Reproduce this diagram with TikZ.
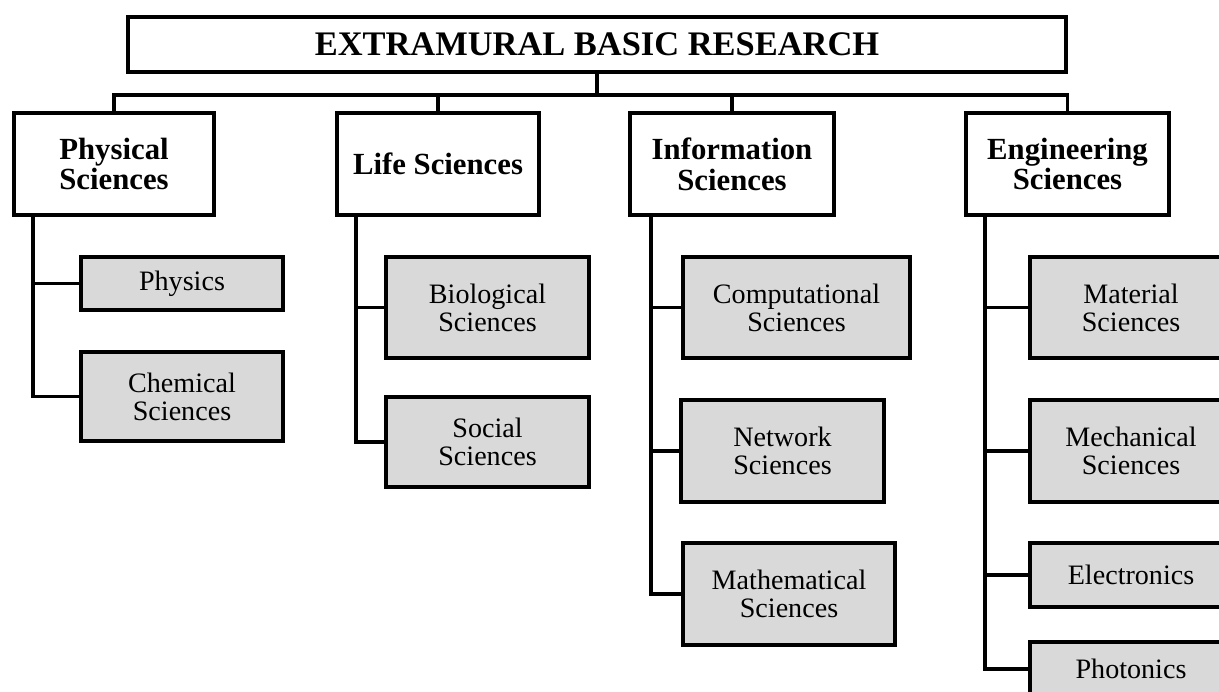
\documentclass[tikz,border=0pt]{standalone}
\usepackage{fontspec}
\setmainfont{Liberation Serif}
\definecolor{boxgray}{HTML}{D9D9D9}
\begin{document}
\begin{tikzpicture}[x=0.02cm,y=-0.02cm,
  box/.style={draw=black, line width=2.2pt, inner sep=0pt, outer sep=0pt, align=center},
  titlebox/.style={box, fill=white, font=\fontsize{19.6}{20}\selectfont\bfseries},
  mainbox/.style={box, fill=white, font=\fontsize{17.5}{17.6}\selectfont\bfseries, minimum height=2.04cm},
  kidbox/.style={box, fill=boxgray, font=\fontsize{16}{16}\selectfont},
  link/.style={draw=black, line width=2.2pt}]
\useasboundingbox (0,0) rectangle (1219,692);
\clip (0,0) rectangle (1219,692);

% title
\node[titlebox, minimum width=18.76cm, minimum height=1.1cm] (top) at (597,44.5) {EXTRAMURAL BASIC RESEARCH};

% level 1
\node[mainbox, minimum width=4.0cm]  (phys) at (114,164)    {Physical\\Sciences};
\node[mainbox, minimum width=4.04cm] (life) at (438,164)    {Life Sciences};
\node[mainbox, minimum width=4.08cm] (info) at (732,164)    {Information\\Sciences};
\node[mainbox, minimum width=4.06cm] (eng)  at (1067.5,164) {Engineering\\Sciences};

% level 2
\node[kidbox, minimum width=4.04cm, minimum height=1.06cm] (physics) at (182,283.5) {Physics};
\node[kidbox, minimum width=4.04cm, minimum height=1.78cm] (chem)    at (182,396.5) {Chemical\\Sciences};
\node[kidbox, minimum width=4.06cm, minimum height=2.02cm] (bio)     at (487.5,307.5) {Biological\\Sciences};
\node[kidbox, minimum width=4.06cm, minimum height=1.8cm]  (social)  at (487.5,442) {Social\\Sciences};
\node[kidbox, minimum width=4.54cm, minimum height=2.02cm] (comp)    at (796.5,307.5) {Computational\\Sciences};
\node[kidbox, minimum width=4.06cm, minimum height=2.04cm] (net)     at (782.5,451) {Network\\Sciences};
\node[kidbox, minimum width=4.24cm, minimum height=2.04cm] (math)    at (789,594) {Mathematical\\Sciences};
\node[kidbox, minimum width=4.04cm, minimum height=2.02cm] (mat)     at (1131,307.5) {Material\\Sciences};
\node[kidbox, minimum width=4.04cm, minimum height=2.04cm] (mech)    at (1131,451) {Mechanical\\Sciences};
\node[kidbox, minimum width=4.04cm, minimum height=1.28cm] (elec)    at (1131,575) {Electronics};
\node[kidbox, minimum width=4.04cm, minimum height=1.08cm] (phot)    at (1131,669) {Photonics};

% top connectors
\coordinate (bar) at (597,95);
\draw[link] (top.south) -- (bar);
\draw[link] (phys.north) |- (bar);
\draw[link] (life.north) |- (bar);
\draw[link] (info.north) |- (bar);
\draw[link] (eng.north)  |- (bar);

% spines
\coordinate (ps) at (33,215);
\coordinate (ls) at (356,215);
\coordinate (is) at (651,215);
\coordinate (es) at (985,215);
\draw[link] (ps) |- (physics.west);
\draw[link] (ps) |- (chem.west);
\draw[link] (ls) |- (bio.west);
\draw[link] (ls) |- (social.west);
\draw[link] (is) |- (comp.west);
\draw[link] (is) |- (net.west);
\draw[link] (is) |- (math.west);
\draw[link] (es) |- (mat.west);
\draw[link] (es) |- (mech.west);
\draw[link] (es) |- (elec.west);
\draw[link] (es) |- (phot.west);
\end{tikzpicture}
\end{document}
